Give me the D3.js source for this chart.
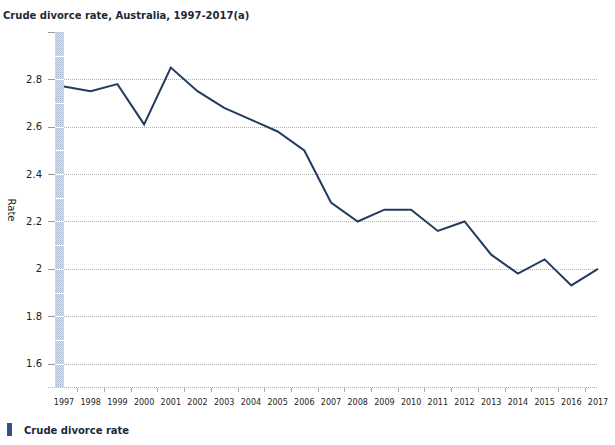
<!DOCTYPE html>
<html><head><meta charset="utf-8">
<script src="https://cdn.jsdelivr.net/npm/d3@7"></script>
<style>
body{margin:0;background:#fff;}
text{font-family:"DejaVu Sans",Verdana,sans-serif;}
</style></head>
<body><svg id="c" width="615" height="445"></svg>
<script>
const years = ["1997","1998","1999","2000","2001","2002","2003","2004","2005","2006","2007","2008","2009","2010","2011","2012","2013","2014","2015","2016","2017"];
const rates = [2.77,2.75,2.78,2.61,2.85,2.75,2.68,2.63,2.58,2.50,2.28,2.20,2.25,2.25,2.16,2.20,2.06,1.98,2.04,1.93,2.00];
const yTicks = [1.6,1.8,2.0,2.2,2.4,2.6,2.8];
const yTickLabels = ["1.6","1.8","2","2.2","2.4","2.6","2.8"];
const title = "Crude divorce rate, Australia, 1997-2017(a)";
const seriesName = "Crude divorce rate";
const yAxisTitle = "Rate";

const svg = d3.select("#c");
const x = d3.scalePoint().domain(years).range([64, 598]);
const y = d3.scaleLinear().domain([1.5, 3.0]).range([387.3, 32]);

const defs = svg.append("defs");
const pat = defs.append("pattern").attr("id","wall").attr("width",2).attr("height",2).attr("patternUnits","userSpaceOnUse");
pat.append("rect").attr("width",2).attr("height",2).attr("fill","#d8e0ea");
pat.append("rect").attr("width",1).attr("height",1).attr("fill","#a9b9cf");
pat.append("rect").attr("x",1).attr("y",1).attr("width",1).attr("height",1).attr("fill","#bccadb");
const pat2 = defs.append("pattern").attr("id","sw").attr("width",2).attr("height",2).attr("patternUnits","userSpaceOnUse");
pat2.append("rect").attr("width",2).attr("height",2).attr("fill","#3a5f96");
pat2.append("rect").attr("width",1).attr("height",1).attr("fill","#1f3d6e");
pat2.append("rect").attr("x",1).attr("y",1).attr("width",1).attr("height",1).attr("fill","#2c4f85");

// title
svg.append("text").attr("x",3).attr("y",19).attr("font-size",10).attr("font-weight","bold").attr("fill","#1a2a3a").text(title);

// gridlines
svg.append("g").selectAll("line").data(yTicks).join("line")
  .attr("x1",48).attr("x2",598).attr("y1",d=>Math.round(y(d))+0.5).attr("y2",d=>Math.round(y(d))+0.5)
  .attr("stroke","#b4b4b4").attr("stroke-width",1).attr("stroke-dasharray","1,1");
// x axis line
svg.append("line").attr("x1",48).attr("x2",598).attr("y1",Math.round(y(1.5))+0.5).attr("y2",Math.round(y(1.5))+0.5)
  .attr("stroke","#b4b4b4").attr("stroke-dasharray","1,1");

// y ticks
svg.append("g").selectAll("line").data([...yTicks,3.0]).join("line")
  .attr("x1",48).attr("x2",55).attr("y1",d=>Math.round(y(d))+0.5).attr("y2",d=>Math.round(y(d))+0.5)
  .attr("stroke","#999");

// wall band
svg.append("rect").attr("x",55).attr("y",y(3.0)).attr("width",9).attr("height",y(1.5)-y(3.0)).attr("fill","url(#wall)");
const wallLines = d3.range(1.6,3.0,0.1);
svg.append("g").selectAll("line").data(wallLines).join("line")
  .attr("x1",55).attr("x2",64).attr("y1",d=>Math.round(y(d))+0.5).attr("y2",d=>Math.round(y(d))+0.5)
  .attr("stroke","#fff").attr("stroke-width",1);

// y labels
svg.append("g").selectAll("text").data(yTicks).join("text")
  .attr("x",42).attr("y",d=>y(d)+3.5).attr("text-anchor","end").attr("font-size",10).attr("fill","#222")
  .text((d,i)=>yTickLabels[i]);

// x ticks at midpoints
const mids = years.slice(0,-1).map((d,i)=>(x(d)+x(years[i+1]))/2);
svg.append("g").selectAll("line").data(mids).join("line")
  .attr("x1",d=>Math.round(d)+0.5).attr("x2",d=>Math.round(d)+0.5).attr("y1",388).attr("y2",392)
  .attr("stroke","#aaa");
// x labels
svg.append("g").selectAll("text").data(years).join("text")
  .attr("x",d=>x(d)).attr("y",405).attr("text-anchor","middle").attr("font-size",8).attr("fill","#222").text(d=>d);

// y axis title
svg.append("text").attr("transform","translate(8,210) rotate(90)").attr("text-anchor","middle")
  .attr("font-size",10).attr("fill","#222").text(yAxisTitle);

// line
const line = d3.line().x((d,i)=>x(years[i])).y(d=>y(d));
svg.append("path").datum(rates).attr("d",line).attr("fill","none").attr("stroke","#223b5e").attr("stroke-width",2).attr("stroke-linejoin","miter");

// legend
svg.append("rect").attr("x",7).attr("y",423).attr("width",5).attr("height",13).attr("fill","url(#sw)");
svg.append("text").attr("x",24).attr("y",433.5).attr("font-size",10).attr("font-weight","bold").attr("fill","#1a2a3a").text(seriesName);
</script></body></html>
